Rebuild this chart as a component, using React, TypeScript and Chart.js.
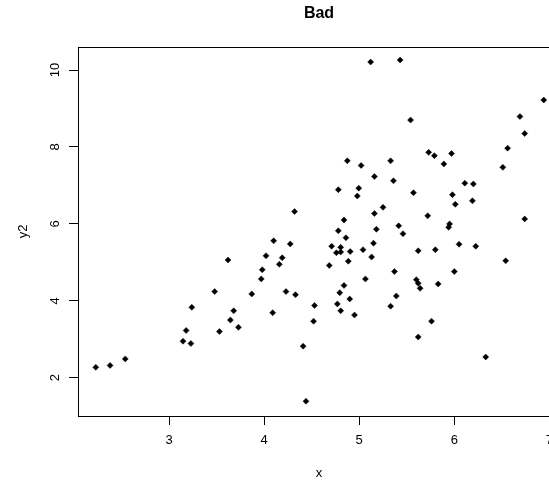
import React, { useEffect, useRef } from "react";
import { Chart, registerables } from "chart.js";

Chart.register(...registerables);

const chartTitle = "Bad";
const xLabel = "x";
const yLabel = "y2";
const xTickValues = [3, 4, 5, 6, 7];
const yTickValues = [2, 4, 6, 8, 10];
const xRange = [2.043, 7.111];
const yRange = [1.005, 10.6];

const xValues = [
  2.23, 2.38, 2.54, 3.147, 3.18, 3.23, 3.24, 3.48, 3.53, 3.62,
  3.645, 3.68, 3.73, 3.87, 3.97, 3.98, 4.02, 4.09, 4.10, 4.16,
  4.19, 4.23, 4.275, 4.33, 4.41, 4.44, 4.32,
  4.52, 4.53, 4.685, 4.71, 4.76, 4.805, 4.805, 4.86, 4.905, 4.885,
  4.84, 4.795, 4.77, 4.805, 4.90, 4.95, 5.04, 5.065, 5.13, 5.15,
  5.33, 5.37, 5.39, 5.46, 5.60, 5.62, 5.64, 5.62, 5.62, 5.76,
  5.80, 5.83, 6.00, 6.05, 6.225, 6.33, 6.54,
  5.12, 5.43, 5.54, 6.94, 6.69, 6.74, 6.56, 6.51, 5.73, 5.79,
  5.97, 5.89, 4.875, 5.02, 5.33, 5.16, 5.36, 4.78, 4.995, 4.98,
  5.57, 6.11, 6.20, 5.98, 6.01, 6.19, 5.25, 5.16, 4.84, 4.78,
  5.18, 5.415, 5.72, 5.95, 5.94, 6.74,
];

const y2Values = [
  2.27, 2.32, 2.49, 2.95, 3.23, 2.89, 3.83, 4.24, 3.20, 5.06,
  3.50, 3.74, 3.31, 4.18, 4.57, 4.81, 5.17, 3.69, 5.56, 4.95,
  5.12, 4.24, 5.48, 4.16, 2.82, 1.39, 6.32,
  3.47, 3.88, 4.92, 5.42, 5.25, 5.39, 5.27, 5.64, 5.28, 5.03,
  4.40, 4.21, 3.92, 3.74, 4.05, 3.63, 5.33, 4.57, 5.14, 5.50,
  3.86, 4.76, 4.125, 5.745, 4.55, 4.455, 4.325, 5.30, 3.06, 3.47,
  5.33, 4.44, 4.76, 5.47, 5.42, 2.54, 5.04,
  10.21, 10.26, 8.70, 9.22, 8.79, 8.35, 7.97, 7.47, 7.86, 7.775,
  7.83, 7.56, 7.64, 7.52, 7.64, 7.23, 7.12, 6.89, 6.93, 6.725,
  6.81, 7.06, 7.04, 6.76, 6.51, 6.60, 6.43, 6.27, 6.10, 5.82,
  5.86, 5.95, 6.21, 6.00, 5.91, 6.13,
];

const FONT = "'Liberation Sans', Arial, Helvetica, sans-serif";

const boxAndYLabels = {
  id: "boxAndYLabels",
  afterDraw(chart: any) {
    const { ctx, chartArea } = chart;
    const { left, top, right, bottom } = chartArea;
    ctx.save();
    ctx.strokeStyle = "#000";
    ctx.lineWidth = 1;
    ctx.strokeRect(Math.round(left) + 0.5, Math.round(top) + 0.5, Math.round(right - left), Math.round(bottom - top));
    const yScale = chart.scales.y;
    ctx.fillStyle = "#000";
    ctx.font = `13px ${FONT}`;
    ctx.textAlign = "center";
    ctx.textBaseline = "alphabetic";
    yScale.ticks.forEach((t: any) => {
      const py = yScale.getPixelForValue(t.value);
      ctx.save();
      ctx.translate(59, py);
      ctx.rotate(-Math.PI / 2);
      ctx.fillText(String(t.value), 0, 0);
      ctx.restore();
    });
    ctx.restore();
  },
};

export default function App() {
  const ref = useRef<HTMLCanvasElement | null>(null);
  useEffect(() => {
    if (!ref.current) return;
    const chart = new Chart(ref.current, {
      type: "scatter",
      data: {
        datasets: [
          {
            data: xValues.map((x, i) => ({ x, y: y2Values[i] })),
            pointStyle: "rectRot",
            pointRadius: 3,
            pointHoverRadius: 3,
            pointBackgroundColor: "#000",
            pointBorderColor: "#000",
            pointBorderWidth: 0.5,
          },
        ],
      },
      options: {
        responsive: false,
        animation: false,
        devicePixelRatio: 1,
        events: [],
        layout: { padding: { left: 0, right: 40, top: 0, bottom: 0 } },
        plugins: {
          legend: { display: false },
          tooltip: { enabled: false },
          title: {
            display: true,
            fullSize: false,
            text: chartTitle,
            color: "#000",
            font: { family: FONT, size: 16, weight: "bold" },
            padding: { top: 4, bottom: 23.8 },
          },
        },
        scales: {
          x: {
            type: "linear",
            position: "bottom",
            min: xRange[0],
            max: xRange[1],
            afterBuildTicks: (s: any) => {
              s.ticks = xTickValues.map((v) => ({ value: v }));
            },
            afterFit: (s: any) => {
              s.height = 69;
            },
            grid: { drawOnChartArea: false, drawTicks: true, tickLength: 9, color: "#000", lineWidth: 1 },
            border: { display: false },
            ticks: { color: "#000", font: { family: FONT, size: 13 }, padding: 8, maxRotation: 0, autoSkip: false },
            title: { display: true, text: xLabel, color: "#000", font: { family: FONT, size: 13 }, padding: { top: 0, bottom: 3.5 } },
          },
          y: {
            type: "linear",
            position: "left",
            min: yRange[0],
            max: yRange[1],
            afterBuildTicks: (s: any) => {
              s.ticks = yTickValues.map((v) => ({ value: v }));
            },
            afterFit: (s: any) => {
              s.width = 78;
            },
            grid: { drawOnChartArea: false, drawTicks: true, tickLength: 9, color: "#000", lineWidth: 1 },
            border: { display: false },
            ticks: { display: false },
            title: { display: true, text: yLabel, color: "#000", font: { family: FONT, size: 13 }, padding: { top: 16, bottom: 0 } },
          },
        },
      },
      plugins: [boxAndYLabels],
    } as any);
    return () => chart.destroy();
  }, []);
  return (
    <div style={{ position: "fixed", left: 0, top: 0, width: 549, height: 485, overflow: "hidden", background: "#fff" }}>
      <canvas ref={ref} width={600} height={485} style={{ width: 600, height: 485, display: "block" }} />
    </div>
  );
}
